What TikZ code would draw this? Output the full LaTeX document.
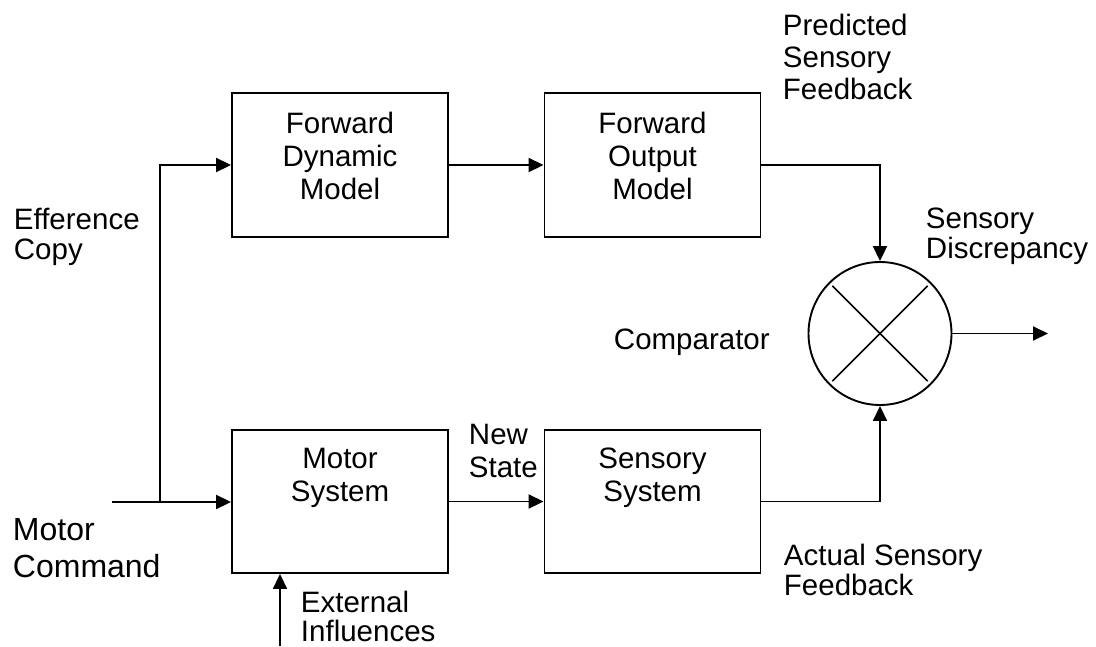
\documentclass[tikz,border=0pt]{standalone}
\usepackage{fontspec}
\setmainfont{Liberation Sans}
\usetikzlibrary{arrows.meta,calc}
\begin{document}
\begin{tikzpicture}[x=1pt,y=-1pt,
  line width=1.9pt,
  arr/.style={-{Triangle[length=15pt,width=14pt]}},
  blk/.style={draw,rectangle,minimum width=216pt,minimum height=144pt,inner sep=0pt},
  intext/.style={anchor=north,yshift=-19pt,inner sep=0pt,align=center,font=\fontsize{29.5}{33}\selectfont},
  lbl/.style={anchor=north west,inner sep=0pt,align=left,font=\fontsize{29.5}{#1}\selectfont},
  lbl/.default=31]
\useasboundingbox (0,0) rectangle (1096,646);

\node[blk,label={[intext]north:Forward\\Dynamic\\Model}] (fdm) at (340,165) {};
\node[blk,label={[intext]north:Forward\\Output\\Model}] (fom) at (652.5,165) {};
\node[blk,minimum height=143pt,label={[intext,yshift=1pt]north:Motor\\System}] (ms) at (340,501.5) {};
\node[blk,minimum height=143pt,label={[intext,yshift=1pt]north:Sensory\\System}] (ss) at (652.5,501.5) {};
\node[draw,circle,minimum size=143pt,inner sep=0pt] (cmp) at (880,333.5) {};

\draw[line width=1.5pt] ($(cmp.center)!0.93!(cmp.north west)$) -- ($(cmp.center)!0.93!(cmp.south east)$);
\draw[line width=1.5pt] ($(cmp.center)!0.93!(cmp.north east)$) -- ($(cmp.center)!0.93!(cmp.south west)$);

\coordinate (mcin) at (112,502);
\coordinate (br) at (160,502);
\coordinate (ext) at (280,646);
\coordinate (out) at (1048,333.5);

\draw[arr] (mcin) -- (mcin -| ms.west);
\draw[arr] (br) |- (fdm.west);
\draw[arr] (fdm.east) -- (fom.west);
\draw[arr] (fom.east) -| (cmp.north);
\draw[arr] (ms.east) -- (ss.west);
\draw[arr] (ss.east) -| (cmp.south);
\draw[arr] (cmp.east) -- (out);
\draw[arr] (ext) -- (ext |- ms.south);

\node[lbl=32] (pred) at (782,13) {Predicted\\Sensory\\Feedback};
\node[lbl=30] (eff) at (13,207) {Efference\\Copy};
\node[lbl=30] (sdisc) at (925,207) {Sensory\\Discrepancy};
\node[lbl] (comp) at (613,328) {Comparator};
\node[lbl=33] (newst) at (468,423) {New\\State};
\node[lbl=30] (actual) at (783,543) {Actual Sensory\\Feedback};
\node[lbl=29] (extinf) at (300,590) {External\\Influences};
\node[anchor=north west,inner sep=0pt,align=left,font=\fontsize{32}{37}\selectfont] (mcmd) at (12,518) {Motor\\Command};
\end{tikzpicture}
\end{document}
